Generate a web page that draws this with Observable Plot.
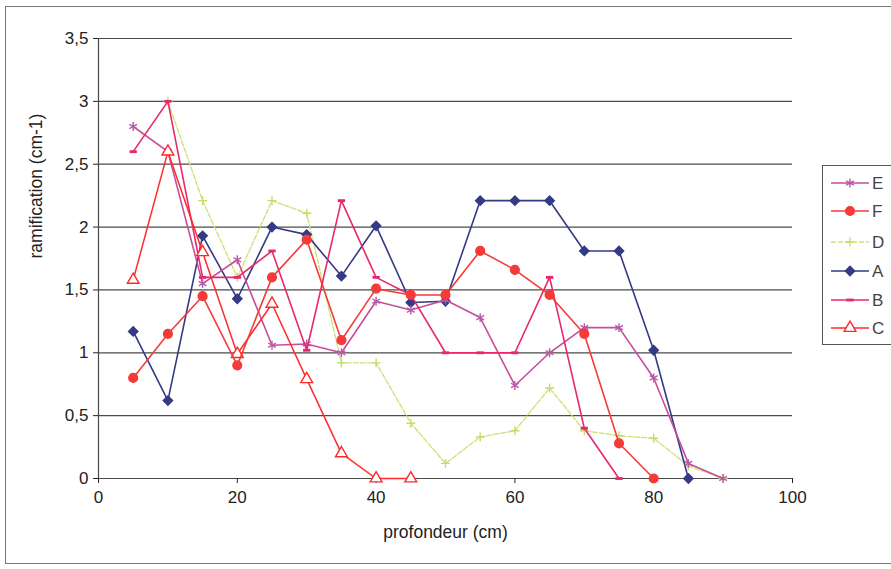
<!DOCTYPE html>
<html><head><meta charset="utf-8">
<script src="https://cdn.jsdelivr.net/npm/d3@7"></script>
<script src="https://cdn.jsdelivr.net/npm/@observablehq/plot@0.6"></script>
<style>
body{margin:0;background:#fff;font-family:"Liberation Sans",Arial,sans-serif;}
#wrap{position:relative;width:891px;height:569px;overflow:hidden;background:#fff;}
#frame{position:absolute;left:5px;top:6px;width:900px;height:556px;border:1px solid #777;}
#chart{position:absolute;left:0;top:0;}
#legend{position:absolute;left:822px;top:165px;width:80px;height:178px;border:1px solid #555;background:#fff;}
</style></head><body>
<div id="wrap"><div id="frame"></div><div id="chart"></div><div id="legend"></div></div>
<script>
// ---- data ----
const depth = [5,10,15,20,25,30,35,40,45,50,55,60,65,70,75,80,85,90];
const E = [2.8,2.6,1.55,1.74,1.06,1.07,1.0,1.41,1.34,1.42,1.28,0.74,1.0,1.2,1.2,0.8,0.12,0];
const F = [0.8,1.15,1.45,0.9,1.6,1.9,1.1,1.51,1.46,1.46,1.81,1.66,1.46,1.15,0.28,0,null,null];
const D = [null,3.0,2.21,1.6,2.21,2.11,0.92,0.92,0.44,0.12,0.33,0.38,0.72,0.38,0.34,0.32,0.1,0];
const A = [1.17,0.62,1.93,1.43,2.0,1.94,1.61,2.01,1.4,1.41,2.21,2.21,2.21,1.81,1.81,1.02,0,null];
const B = [2.6,3.0,1.6,1.6,1.81,1.02,2.21,1.6,1.46,1.0,1.0,1.0,1.6,0.4,0,null,null,null];
const C = [1.58,2.6,1.8,0.99,1.39,0.79,0.2,0,0,null,null,null,null,null,null,null,null,null];
const legendOrder = ["E","F","D","A","B","C"];
const xTicks = [0,20,40,60,80,100];
const yTicks = [0,0.5,1,1.5,2,2.5,3,3.5];
const xLabel = "profondeur (cm)";
const yLabel = "ramification (cm-1)";

// ---- styles ----
const dash = {draw(ctx, size){ const r = Math.sqrt(size/Math.PI); ctx.rect(-r*1.4, -r*0.55, r*2.8, r*1.1); }};
const styles = {
  D:{values:D, color:"#cfe27a", symbol:"plus", fill:"none", stroke:"#c5dc6a", r:3, dash:"5,2", width:1.4},
  A:{values:A, color:"#353a85", symbol:"diamond2", fill:"#353a85", stroke:"#353a85", r:4.2, dash:null, width:1.6},
  E:{values:E, color:"#c54d9c", symbol:"asterisk", fill:"none", stroke:"#b85aa8", r:4.2, dash:null, width:1.6},
  B:{values:B, color:"#e8286a", symbol:dash, fill:"#e8286a", stroke:"none", r:2.6, dash:null, width:1.6},
  C:{values:C, color:"#ff2a2a", symbol:"triangle", fill:"#fff", stroke:"#ff2a2a", r:4.4, dash:null, width:1.5},
  F:{values:F, color:"#f53a3a", symbol:"circle", fill:"#f53a3a", stroke:"#f53a3a", r:4.4, dash:null, width:1.6}
};
const drawOrder = ["D","A","E","B","C","F"];

const marks = [
  Plot.gridY({ticks:yTicks, stroke:"#4a4a4a", strokeOpacity:1, strokeWidth:1.2}),
  Plot.ruleX([0], {stroke:"#4a4a4a", strokeWidth:1.2}),
  Plot.axisY({ticks:yTicks, tickFormat:d=>String(d).replace(".",","), tickSize:5, tickPadding:5, fontSize:17, label:null}),
  Plot.axisX({ticks:xTicks, tickSize:5, tickPadding:7, fontSize:17, label:null}),
  Plot.text([xLabel], {text:d=>d, frameAnchor:"bottom", dy:59, fontSize:17.5, fill:"#222"}),
  Plot.text([yLabel], {text:d=>d, frameAnchor:"left", dx:-62, rotate:-90, fontSize:17.5, fill:"#222"})
];
for (const k of drawOrder) {
  const s = styles[k];
  const rows = depth.map((d,i)=>({depth:d, value:s.values[i]})).filter(r=>r.value!=null);
  marks.push(Plot.line(rows, {x:"depth", y:"value", stroke:s.color, strokeWidth:s.width, strokeDasharray:s.dash}));
  marks.push(Plot.dot(rows, {x:"depth", y:"value", symbol:s.symbol, r:s.r, fill:s.fill, stroke:s.stroke, strokeWidth:1.4}));
}

const chart = Plot.plot({
  width:891, height:569,
  marginLeft:98, marginRight:99, marginTop:38, marginBottom:91,
  style:{fontFamily:"'Liberation Sans', Arial, sans-serif", color:"#222", background:"transparent"},
  x:{domain:[0,100]},
  y:{domain:[0,3.5]},
  marks
});
document.getElementById("chart").appendChild(chart);

// ---- legend ----
const lg = d3.select("#legend").append("svg").attr("width",80).attr("height",178);
const ys = [17,45,76,105,134,162];
legendOrder.forEach((k,i)=>{
  const s = styles[k];
  const g = lg.append("g").attr("transform",`translate(0,${ys[i]})`);
  g.append("line").attr("x1",8).attr("x2",46).attr("y1",0).attr("y2",0)
    .attr("stroke",s.color).attr("stroke-width",s.width).attr("stroke-dasharray",s.dash);
  const symMap = {plus:d3.symbolPlus, diamond2:d3.symbolDiamond2, asterisk:d3.symbolAsterisk, triangle:d3.symbolTriangle, circle:d3.symbolCircle};
  const sym = typeof s.symbol === "string" ? symMap[s.symbol] : s.symbol;
  g.append("path").attr("transform","translate(27,0)")
    .attr("d", d3.symbol(sym, s.r*s.r*Math.PI)())
    .attr("fill", s.fill).attr("stroke", s.stroke).attr("stroke-width",1.4);
  g.append("text").attr("x",49).attr("y",6).attr("font-size",17).attr("fill","#444")
    .attr("font-family","'Liberation Sans', Arial, sans-serif").text(k);
});
</script>
</body></html>
